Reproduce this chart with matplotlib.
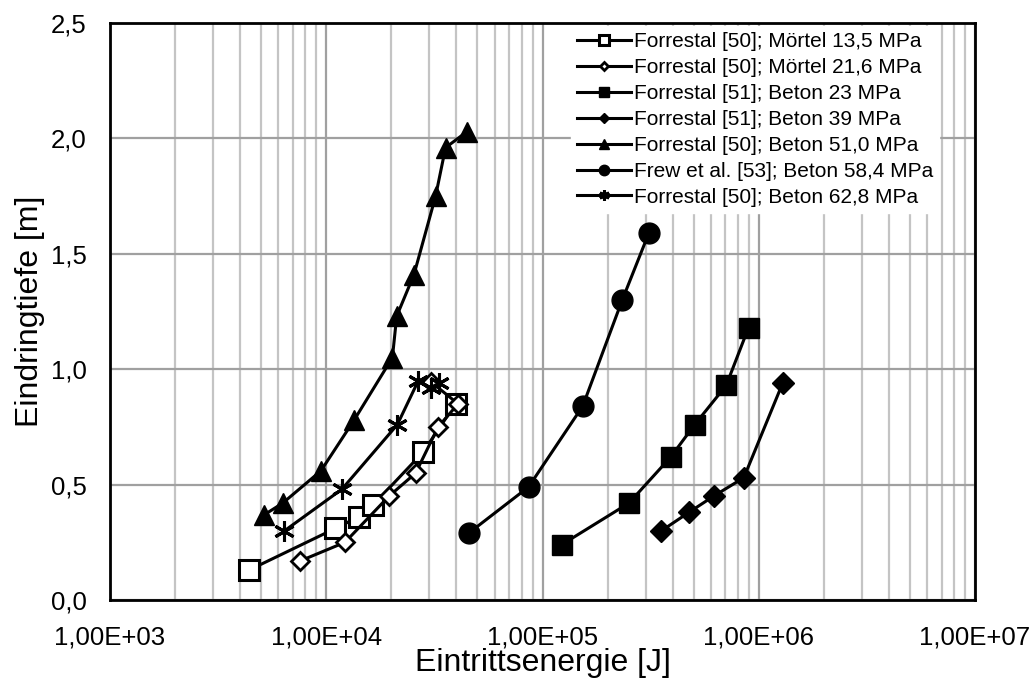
import numpy as np
import matplotlib
matplotlib.use('Agg')
import matplotlib.pyplot as plt
from matplotlib.ticker import FixedLocator, LogLocator, NullFormatter

plt.rcParams['font.family'] = ['Liberation Sans', 'DejaVu Sans']

# Daten: Eintrittsenergie [J], Eindringtiefe [m]
e_m135 = [4400, 11000, 14100, 16400, 28000, 39600]
t_m135 = [0.13, 0.31, 0.36, 0.41, 0.64, 0.85]

e_m216 = [7600, 12200, 19500, 25900, 32900, 40700, 30500]
t_m216 = [0.17, 0.25, 0.45, 0.55, 0.75, 0.85, 0.945]

e_b23 = [122700, 250900, 391800, 505300, 706900, 896500]
t_b23 = [0.24, 0.42, 0.62, 0.76, 0.93, 1.18]

e_b39 = [354600, 475600, 618000, 852600, 1290000]
t_b39 = [0.30, 0.38, 0.45, 0.53, 0.94]

e_b51 = [5180, 6290, 9450, 13460, 20220, 21170, 25440, 32030, 35610, 44800]
t_b51 = [0.37, 0.42, 0.56, 0.78, 1.05, 1.23, 1.41, 1.75, 1.96, 2.03]

e_b584 = [45600, 86200, 153400, 233700, 310200]
t_b584 = [0.29, 0.49, 0.84, 1.30, 1.59]

e_b628 = [6410, 11810, 21310, 26640, 30350, 33180]
t_b628 = [0.30, 0.48, 0.76, 0.95, 0.92, 0.94]

xticks = [1e3, 1e4, 1e5, 1e6, 1e7]
xlabels = ['1,00E+03', '1,00E+04', '1,00E+05', '1,00E+06', '1,00E+07']

fig = plt.figure(figsize=(10.32, 6.8), dpi=100)
ax = fig.add_axes([0.1066, 0.1176, 0.8382, 0.8485])

lw = 2.2
ax.plot(e_m135, t_m135, '-s', color='k', lw=lw, ms=14, mfc='white', mew=2.2,
        label='Forrestal [50]; Mörtel 13,5 MPa')
ax.plot(e_m216, t_m216, '-D', color='k', lw=lw, ms=9, mfc='white', mew=2,
        label='Forrestal [50]; Mörtel 21,6 MPa')
ax.plot(e_b23, t_b23, '-s', color='k', lw=lw, ms=14,
        label='Forrestal [51]; Beton 23 MPa')
ax.plot(e_b39, t_b39, '-D', color='k', lw=lw, ms=11,
        label='Forrestal [51]; Beton 39 MPa')
ax.plot(e_b51, t_b51, '-^', color='k', lw=lw, ms=15,
        label='Forrestal [50]; Beton 51,0 MPa')
ax.plot(e_b584, t_b584, '-o', color='k', lw=lw, ms=15,
        label='Frew et al. [53]; Beton 58,4 MPa')
ax.plot(e_b628, t_b628, '-', color='k', lw=lw, marker=(6, 2, 0), ms=15, mew=2.2,
        label='Forrestal [50]; Beton 62,8 MPa')

ax.set_xscale('log')
ax.set_xlim(1e3, 1e7)
ax.set_ylim(0, 2.5)
ax.xaxis.set_major_locator(FixedLocator(xticks))
ax.xaxis.set_minor_locator(LogLocator(base=10, subs=np.arange(2, 10)))
ax.xaxis.set_minor_formatter(NullFormatter())
ax.set_xticks(xticks)
ax.set_xticklabels(xlabels)
yt = np.arange(0, 2.51, 0.5)
ax.set_yticks(yt)
ax.set_yticklabels([('%.1f' % v).replace('.', ',') for v in yt])
ax.tick_params(which='both', length=0, labelsize=18.5)
ax.tick_params(axis='x', pad=18)
ax.tick_params(axis='y', pad=17)

ax.grid(which='major', color='#a0a0a0', lw=1.6)
ax.grid(which='minor', axis='x', color='#c4c4c4', lw=1.6)
ax.set_axisbelow(True)
for s in ax.spines.values():
    s.set_linewidth(2)

ax.set_xlabel('Eintrittsenergie [J]', fontsize=23, labelpad=-1)
ax.set_ylabel('Eindringtiefe [m]', fontsize=23, labelpad=4)

leg = ax.legend(loc='upper right', bbox_to_anchor=(0.962, 1.0), fontsize=15,
                markerscale=0.5, handlelength=2.6, handletextpad=0.1,
                labelspacing=0.33, borderaxespad=0.15, borderpad=0.3,
                frameon=True, fancybox=False, framealpha=1, edgecolor='white')

plt.savefig('out.png', dpi=100)
